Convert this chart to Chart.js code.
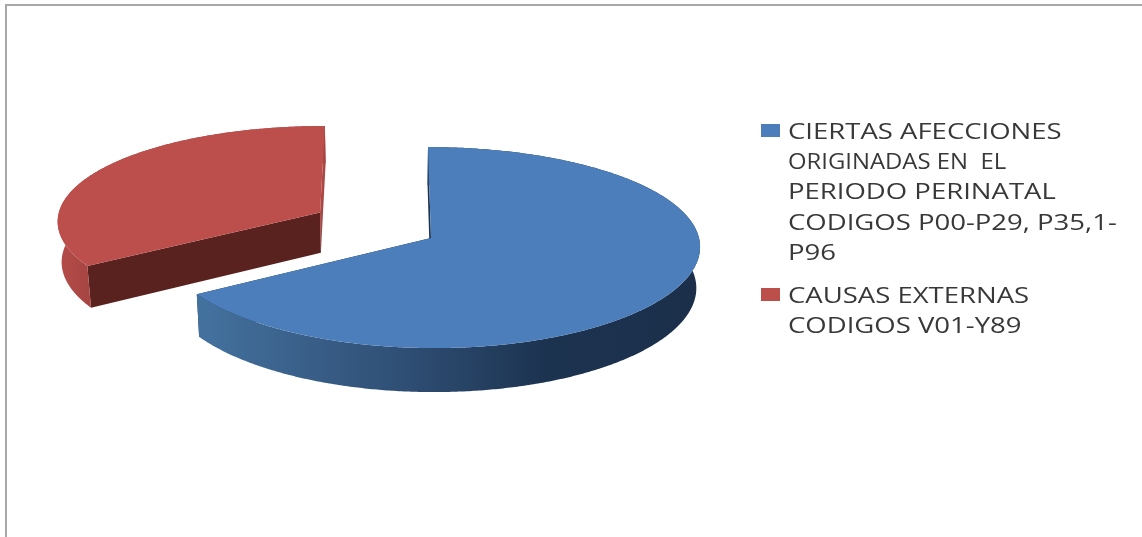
<!DOCTYPE html>
<html>
<head>
<meta charset="utf-8">
<title>Causas</title>
<script src="https://cdn.jsdelivr.net/npm/chart.js@4"></script>
<style>
    html, body { margin: 0; padding: 0; background: #fff; overflow: hidden; }
    #wrap { position: relative; width: 1142px; height: 537px; filter: blur(0.5px); }
    #frame { position: absolute; left: 5px; top: 4px; right: 0; bottom: 0; border-left: 2px solid #a8a8a8; border-top: 2px solid #a8a8a8; }
    #chartCanvas { position: absolute; left: 0; top: 0; }
    #legend { position: absolute; left: 788px; top: 115px; width: 350px; margin: 0; padding: 0; list-style: none;
        font-family: "Open Sans", sans-serif; font-size: 22px; line-height: 30.2px; color: #383838; white-space: pre; }
    #legend li { position: relative; margin-bottom: 13px; }
    #legend i { position: absolute; left: -27px; top: 9px; width: 19px; height: 13px; }
    #legend span { display: block; transform-origin: left top; filter: blur(0.4px); }
</style>
</head>
<body>
<div id="wrap">
    <div id="frame"></div>
    <canvas id="chartCanvas" width="1142" height="537"></canvas>
    <ul id="legend"></ul>
</div>
<script>
const categories = [
    ['CIERTAS AFECCIONES', 'ORIGINADAS EN  EL', 'PERIODO PERINATAL', 'CODIGOS P00-P29, P35,1-', 'P96'],
    ['CAUSAS EXTERNAS', 'CODIGOS V01-Y89']
];
const seriesValues = [66, 34];
const sliceOffsets = [0, 128];
const topColors = ['#4c7ebb', '#bc4e4b'];
const startWallColors = ['#1c3350', '#5a221f'];
const endWallColors = ['#1c3350', '#a94845'];
const sliceLift = [0, 3];
const sliceScale = [1, 0.992];
// the picture is stretched sideways, the second legend line less than the others
const lineStretch = [[1.25, 1.085, 1.25, 1.25, 1.25], [1.25, 1.25]];

// Look of the tilted pie on the page
const view = { originX: 431, originY: 238, vanishX: 389, radius: 268, tilt: 99.6, perspective: 10.5, perspectiveX: 13, depth: 44, shrink: 0.012 };

function project(dx, dy, z, lift) {
    const v = dy / view.radius;
    const s = view.perspective / (view.perspective - v);
    const sx = view.perspectiveX / (view.perspectiveX - v);
    let x = view.vanishX + (view.originX - view.vanishX + dx) * sx;
    let y = view.originY + view.tilt * v * s - lift;
    if (z) {
        x = view.vanishX + (x - view.vanishX) * (1 - view.shrink);
        y += view.depth * (1 + 0.07 * (v - 1));
    }
    return { x, y };
}

function fillPoints(ctx, points, color) {
    ctx.beginPath();
    points.forEach((p, i) => i ? ctx.lineTo(p.x, p.y) : ctx.moveTo(p.x, p.y));
    ctx.closePath();
    ctx.fillStyle = color;
    ctx.fill();
}

function rimColor(ctx, index) {
    const g = ctx.createLinearGradient(index ? 60 : 196, 0, index ? 90 : 696, 0);
    if (index) {
        g.addColorStop(0, '#b44c49');
        g.addColorStop(1, '#a64542');
    } else {
        g.addColorStop(0, '#44729f');
        g.addColorStop(0.42, '#2f4e74');
        g.addColorStop(0.7, '#1c3350');
        g.addColorStop(1, '#1b2f4a');
    }
    return g;
}

function drawSlice(ctx, arc, index) {
    const { startAngle, endAngle } = arc;
    const outerRadius = arc.outerRadius * sliceScale[index];
    const mid = (startAngle + endAngle) / 2;
    const off = arc.options.offset || 0;
    const ox = Math.cos(mid) * off;
    const oy = Math.sin(mid) * off;
    const lift = sliceLift[index];

    const rim = [];
    for (let a = startAngle; a < endAngle; a += Math.PI / 360) {
        rim.push([ox + Math.cos(a) * outerRadius, oy + Math.sin(a) * outerRadius]);
    }
    rim.push([ox + Math.cos(endAngle) * outerRadius, oy + Math.sin(endAngle) * outerRadius]);

    const top = rim.map(p => project(p[0], p[1], 0, lift));
    const low = rim.map(p => project(p[0], p[1], 1, lift));
    const apexTop = project(ox, oy, 0, lift);
    const apexLow = project(ox, oy, 1, lift);
    const last = top.length - 1;

    // walls first, the top face covers whatever should stay hidden
    fillPoints(ctx, [apexTop, top[last], low[last], apexLow], endWallColors[index]);
    fillPoints(ctx, [apexTop, top[0], low[0], apexLow], startWallColors[index]);
    fillPoints(ctx, top.concat(low.slice().reverse()), rimColor(ctx, index));
    fillPoints(ctx, [apexTop].concat(top), arc.options.backgroundColor);
}

const tiltedPie = {
    id: 'tiltedPie',
    beforeDatasetsDraw(chart) {
        const arcs = chart.getDatasetMeta(0).data;
        const ctx = chart.ctx;
        ctx.save();
        // the pulled-out slice sits behind the big one
        [1, 0].forEach(i => drawSlice(ctx, arcs[i], i));
        ctx.restore();
        return false;
    }
};

const chart = new Chart(document.getElementById('chartCanvas').getContext('2d'), {
    type: 'pie',
    data: {
        labels: categories,
        datasets: [{
            data: seriesValues,
            backgroundColor: topColors,
            offset: sliceOffsets,
            borderWidth: 0
        }]
    },
    options: {
        responsive: false,
        animation: false,
        radius: view.radius,
        plugins: {
            legend: { display: false },
            tooltip: { enabled: false }
        }
    },
    plugins: [tiltedPie]
});

const legendEl = document.getElementById('legend');
chart.data.labels.forEach((lines, i) => {
    const li = document.createElement('li');
    const box = document.createElement('i');
    box.style.background = topColors[i];
    li.appendChild(box);
    lines.forEach((line, j) => {
        const text = document.createElement('span');
        text.textContent = line;
        text.style.transform = 'scaleX(' + lineStretch[i][j] + ')';
        li.appendChild(text);
    });
    legendEl.appendChild(li);
});
</script>
</body>
</html>
